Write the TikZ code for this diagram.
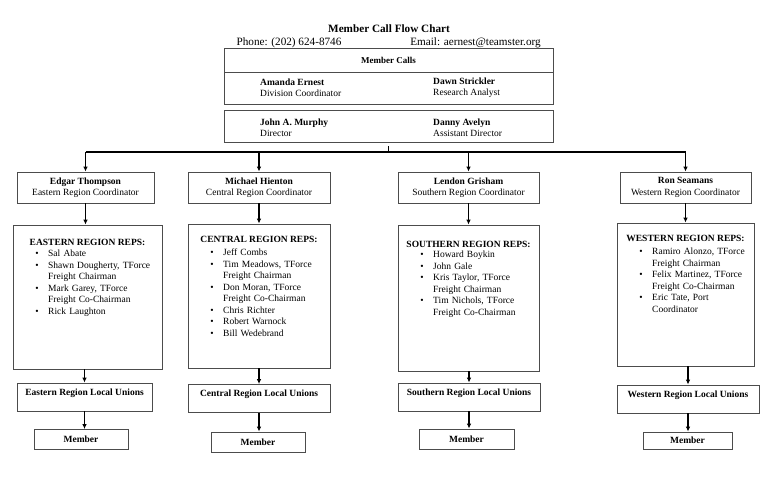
\documentclass[tikz,border=0pt]{standalone}
\usepackage{fontspec}
\setmainfont{Liberation Serif}
\usetikzlibrary{arrows.meta,calc}
\newcommand\repitem[1]{\noindent\llap{\textbullet\hspace{9.5pt}}#1\par}
\begin{document}
\begin{tikzpicture}[x=1pt,y=-1pt,
  box/.style={draw=black!70, line width=0.8pt, inner sep=0pt, rectangle},
  arr/.style={-{Latex[length=5pt,width=4.5pt]}, line width=1.2pt},
  bodyfont/.style={font=\fontsize{9.5}{11.5}\selectfont},
  boldfont/.style={font=\bfseries\fontsize{9.5}{11.5}\selectfont},
  txt/.style={bodyfont, inner sep=0pt},
  btxt/.style={boldfont, inner sep=0pt},
  pair/.style={txt, align=left, anchor=west},
  coordbox/.style={box, bodyfont, align=center, minimum height=31pt},
  replist/.style={txt, text width=112pt, anchor=base west},
  head/.style={btxt, anchor=base},
  unionbox/.style={box, minimum width=142pt, minimum height=28pt},
  memberbox/.style={box, boldfont, minimum width=94pt, minimum height=20pt}
]
\useasboundingbox (0,0) rectangle (775,483);

% header
\node[inner sep=0pt, font=\bfseries\fontsize{11.2}{13}\selectfont] (title) at (389,29) {Member Call Flow Chart};
\node[inner sep=0pt, font=\fontsize{11.2}{13}\selectfont] (phone) at (289,43) {Phone: (202) 624-8746};
\node[inner sep=0pt, font=\fontsize{11.2}{13}\selectfont] (email) at (475.5,43) {Email: aernest@teamster.org};

\node[box, minimum width=329pt, minimum height=24pt, font=\bfseries\fontsize{9}{11}\selectfont] (mc) at (388.5,60) {Member Calls};
\node[box, minimum width=329pt, minimum height=32pt] (staff) at (388.5,88) {};
\node[pair] (ae) at (260,87.5) {\textbf{Amanda Ernest}\\Division Coordinator};
\node[pair] (ds) at (433,87.5) {\textbf{Dawn Strickler}\\Research Analyst};
\node[box, minimum width=329pt, minimum height=32pt] (dir) at (388.5,126) {};
\node[pair] (jm) at (260,127.5) {\textbf{John A. Murphy}\\Director};
\node[pair] (da) at (433,127.5) {\textbf{Danny Avelyn}\\Assistant Director};

% coordinators
\node[coordbox, minimum width=137pt] (c1) at (85.5,187.5) {\textbf{Edgar Thompson}\\Eastern Region Coordinator};
\node[coordbox, minimum width=142pt] (c2) at (259,187.5) {\textbf{Michael Hienton}\\Central Region Coordinator};
\node[coordbox, minimum width=141pt] (c3) at (468.5,187.5) {\textbf{Lendon Grisham}\\Southern Region Coordinator};
\node[coordbox, minimum width=131pt] (c4) at (685.5,187.5) {\textbf{Ron Seamans}\\Western Region Coordinator};

% bus
\coordinate (bus) at (0,152);
\draw[line width=1.6pt] (c1.north |- bus) -- (c4.north |- bus);
\draw[line width=1.3pt] ([yshift=-4pt]dir.south) -- (dir.south |- bus);
\foreach \c in {c1,c2,c3,c4} \draw[arr] (\c.north |- bus) -- (\c.north);

% reps boxes
\node[box, minimum width=149pt, minimum height=144pt] (r1) at (87.5,297) {};
\node[box, minimum width=142pt, minimum height=144pt] (r2) at (259,296) {};
\node[box, minimum width=141pt, minimum height=146pt] (r3) at (468.5,298) {};
\node[box, minimum width=137pt, minimum height=143pt] (r4) at (685.5,294.5) {};
\foreach \i in {1,2,3,4} \draw[arr] (c\i.south) -- (c\i.south |- r\i.north);

\node[head] (h1) at (87.5,245.5) {EASTERN REGION REPS:};
\node[replist] (l1) at (48,256.5) {\repitem{Sal Abate}\repitem{Shawn Dougherty, TForce\\Freight Chairman}\repitem{Mark Garey, TForce\\Freight Co-Chairman}\repitem{Rick Laughton}};
\node[head] (h2) at (259,242.5) {CENTRAL REGION REPS:};
\node[replist] (l2) at (223,255.5) {\repitem{Jeff Combs}\repitem{Tim Meadows, TForce\\Freight Chairman}\repitem{Don Moran, TForce\\Freight Co-Chairman}\repitem{Chris Richter}\repitem{Robert Warnock}\repitem{Bill Wedebrand}};
\node[head] (h3) at (468.5,247.5) {SOUTHERN REGION REPS:};
\node[replist] (l3) at (433,257.5) {\repitem{Howard Boykin}\repitem{John Gale}\repitem{Kris Taylor, TForce\\Freight Chairman}\repitem{Tim Nichols, TForce\\Freight Co-Chairman}};
\node[head] (h4) at (685.5,241.5) {WESTERN REGION REPS:};
\node[replist] (l4) at (652,254.5) {\repitem{Ramiro Alonzo, TForce\\Freight Chairman}\repitem{Felix Martinez, TForce\\Freight Co-Chairman}\repitem{Eric Tate, Port\\Coordinator}};

% local unions
\node[unionbox, minimum width=135pt] (u1) at (84.5,397) {};
\node[unionbox] (u2) at (259,398.5) {};
\node[unionbox] (u3) at (469,397) {};
\node[unionbox] (u4) at (688,399) {};
\node[btxt] (t1) at (84.5,393) {Eastern Region Local Unions};
\node[btxt] (t2) at (259,394.5) {Central Region Local Unions};
\node[btxt] (t3) at (469,393) {Southern Region Local Unions};
\node[btxt] (t4) at (688,395) {Western Region Local Unions};
\foreach \i in {1,2,3,4} \draw[arr] (u\i.north |- r\i.south) -- (u\i.north);

% members
\node[memberbox] (m1) at (81,439.5) {Member};
\node[memberbox] (m2) at (258,442) {Member};
\node[memberbox, minimum width=95pt] (m3) at (466.5,439) {Member};
\node[memberbox, minimum width=89pt, minimum height=17pt] (m4) at (687.5,440.5) {Member};
\foreach \i in {1,2,3,4} \draw[arr] (u\i.south) -- (u\i.south |- m\i.north);
\end{tikzpicture}
\end{document}
